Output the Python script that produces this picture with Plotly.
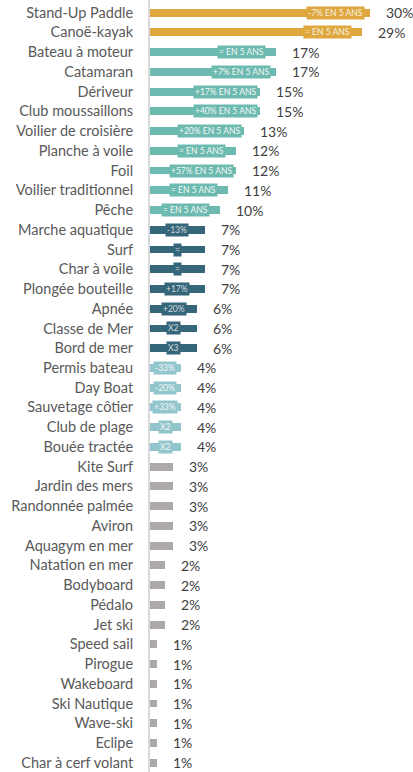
import plotly.graph_objects as go

categories = [
    "Stand-Up Paddle", "Canoë-kayak",
    "Bateau à moteur", "Catamaran", "Dériveur", "Club moussaillons",
    "Voilier de croisière", "Planche à voile", "Foil", "Voilier traditionnel", "Pêche",
    "Marche aquatique", "Surf", "Char à voile", "Plongée bouteille", "Apnée",
    "Classe de Mer", "Bord de mer",
    "Permis bateau", "Day Boat", "Sauvetage côtier", "Club de plage", "Bouée tractée",
    "Kite Surf", "Jardin des mers", "Randonnée palmée", "Aviron", "Aquagym en mer",
    "Natation en mer", "Bodyboard", "Pédalo", "Jet ski",
    "Speed sail", "Pirogue", "Wakeboard", "Ski Nautique", "Wave-ski", "Eclipe",
    "Char à cerf volant",
]
values = [
    29.9, 28.8,
    17.1, 17.1, 15.0, 15.0, 12.8, 11.7, 11.7, 10.6, 9.5,
    7.45, 7.45, 7.45, 7.45, 6.4, 6.4, 6.4,
    4.2, 4.2, 4.2, 4.2, 4.2,
    3.1, 3.1, 3.1, 3.1, 3.1,
    2.0, 2.0, 2.0, 2.0,
    0.95, 0.95, 0.95, 0.95, 0.95, 0.95, 0.95,
]
value_labels = [
    "30%", "29%",
    "17%", "17%", "15%", "15%", "13%", "12%", "12%", "11%", "10%",
    "7%", "7%", "7%", "7%", "6%", "6%", "6%",
    "4%", "4%", "4%", "4%", "4%",
    "3%", "3%", "3%", "3%", "3%",
    "2%", "2%", "2%", "2%",
    "1%", "1%", "1%", "1%", "1%", "1%", "1%",
]
trend_labels = [
    "-7% EN 5 ANS", "= EN 5 ANS",
    "= EN 5 ANS", "+7% EN 5 ANS", "+17% EN 5 ANS", "+40% EN 5 ANS",
    "+20% EN 5 ANS", "= EN 5 ANS", "+57% EN 5 ANS", "= EN 5 ANS", "= EN 5 ANS",
    "-13%", "=", "=", "+17%", "+20%", "X2", "X3",
    "-33%", "-20%", "+33%", "X2", "X2",
] + [""] * 16
groups = (["top"] * 2 + ["high"] * 9 + ["mid"] * 7 + ["low"] * 5 + ["rest"] * 16)

group_colors = {
    "top": "#DFA83F",
    "high": "#6DBAB0",
    "mid": "#35667A",
    "low": "#92C5CC",
    "rest": "#ADA9A9",
}
label_font_colors = {
    "top": "#F7F1E4",
    "high": "#F4F8F7",
    "mid": "#D5DCDF",
    "low": "#F4F8F8",
    "rest": "#FFFFFF",
}

FONT = "Lato"
colors = [group_colors[g] for g in groups]

fig = go.Figure()
fig.add_trace(go.Bar(
    x=values,
    y=categories,
    orientation="h",
    marker=dict(color=colors, line=dict(width=0)),
    width=0.4,
    hoverinfo="skip",
))

annotations = []
for cat, v, vl, tl, g in zip(categories, values, value_labels, trend_labels, groups):
    annotations.append(dict(
        x=v, y=cat, xref="x", yref="y", text=vl, showarrow=False,
        xanchor="left", yanchor="middle", xshift=14,
        font=dict(family=FONT, size=14, color="#404040"),
    ))
    if tl:
        cx = max(v / 2.0, v - 4.7)
        annotations.append(dict(
            x=cx, y=cat, xref="x", yref="y", text=tl, showarrow=False,
            xanchor="center", yanchor="middle",
            bgcolor=group_colors[g], borderpad=1,
            font=dict(family=FONT, size=8.5, color=label_font_colors[g]),
        ))

fig.update_layout(
    width=413, height=772,
    margin=dict(l=150, r=0, t=0, b=0),
    paper_bgcolor="white", plot_bgcolor="white",
    showlegend=False,
    annotations=annotations,
    bargap=0,
)
fig.update_xaxes(range=[0, 35.8], visible=False, fixedrange=True)
fig.update_yaxes(
    range=[38.47, -0.64],
    showgrid=False, zeroline=False,
    showline=True, linecolor="#D9D9D9", linewidth=2,
    ticks="", ticklabelstandoff=12,
    tickfont=dict(family=FONT, size=14.5, color="#595959"),
    fixedrange=True,
)

fig.write_html(
    "out.html",
    config={"displayModeBar": False},
    post_script="document.body.style.margin='0';document.body.style.overflow='hidden';",
)
